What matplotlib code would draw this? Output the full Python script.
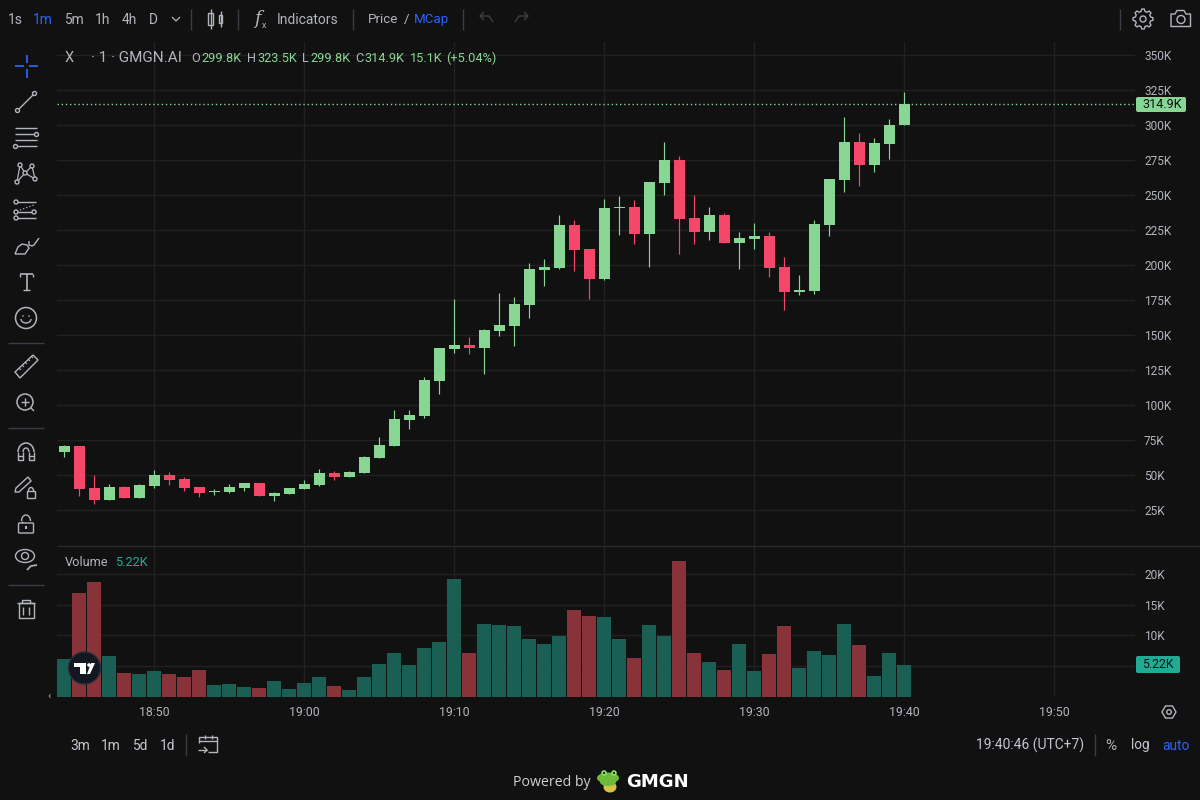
import numpy as np
import matplotlib
matplotlib.use("Agg")
import matplotlib.pyplot as plt
from matplotlib.patches import Circle, Rectangle, Polygon, FancyBboxPatch, Ellipse, Arc

plt.rcParams['font.family'] = ['Roboto', 'DejaVu Sans']

# ---- data (thousands) : one entry per minute, starting 18:44 ----
opens = [66.4,70.7,40.7,32.1,41.4,33.6,42.1,50.0,47.1,41.4,37.9,37.9,40.7,44.3,35.0,36.4,40.0,42.9,51.4,48.6,
         51.4,62.1,70.7,89.3,92.1,117.1,140.0,142.9,140.7,152.9,156.4,171.4,196.4,197.9,228.6,211.4,190.0,240.7,241.4,222.1,
         258.6,275.0,233.6,223.6,235.7,215.7,218.6,220.7,198.6,180.7,181.4,228.6,260.7,287.9,271.4,286.4,299.8]
highs = [71.4,70.7,50.0,43.6,42.1,43.6,53.6,52.1,48.6,41.4,40.0,43.6,44.3,44.3,37.9,40.7,46.4,54.3,52.9,52.9,
         63.6,77.1,96.4,96.4,120.0,140.7,175.7,148.6,154.3,180.0,177.1,201.4,204.3,235.7,232.1,211.4,247.1,249.3,246.4,259.3,
         287.9,277.9,250.0,241.4,237.1,223.6,230.0,223.6,205.7,192.9,232.1,261.4,305.7,294.3,290.7,304.3,323.5]
lows = [62.9,35.0,29.3,32.1,33.6,33.6,40.7,42.9,38.6,34.3,35.7,37.1,38.6,35.0,31.4,36.4,40.0,42.1,46.4,48.6,
        51.4,62.1,70.7,82.9,90.7,107.9,137.1,136.4,122.1,149.3,142.1,162.1,185.0,197.1,195.7,175.7,189.3,221.4,215.0,198.6,
        250.0,207.9,215.0,217.9,215.7,197.1,211.4,191.4,167.9,178.6,179.3,220.7,252.1,256.4,266.4,275.7,299.8]
closes = [70.7,40.0,32.1,41.4,33.6,42.9,50.0,46.4,40.7,37.1,38.6,41.4,44.3,35.0,37.1,40.7,43.6,51.4,48.6,52.1,
          62.9,71.4,90.0,92.9,117.9,140.7,142.9,140.7,153.6,157.1,172.1,197.1,198.6,228.6,210.7,190.0,240.7,241.4,222.1,259.3,
          275.0,232.9,223.6,235.7,215.7,219.3,220.7,197.9,180.7,182.1,229.3,261.4,287.9,271.4,287.1,300.0,314.9]
volumes = [6.16,16.9,18.6,6.65,3.9,3.73,4.2,3.73,3.24,4.38,1.95,2.1,1.62,1.46,2.6,1.3,2.27,3.24,1.78,1.14,
           3.24,5.35,7.14,5.19,7.95,8.92,19.14,7.14,11.84,11.68,11.5,9.4,8.6,9.9,14.1,13.1,13.0,9.4,6.3,11.7,
           9.9,22.05,7.14,5.68,4.38,8.6,4.2,7.0,11.5,4.7,7.46,6.8,11.84,8.43,3.4,7.14,5.22]
price_ticks = [25,50,75,100,125,150,175,200,225,250,275,300,325,350]
volume_ticks = [5,10,15,20]
volume_labels = ['', '10K', '15K', '20K']   # the 5K label sits behind the last-value box
time_labels = ['18:50','19:00','19:10','19:20','19:30','19:40','19:50']
time_ticks = [6,16,26,36,46,56,66]
last_price = 314.9
last_volume = 5.22

BG = '#111111'; GRID = '#212121'; TXT = '#b2b5be'; UP = '#88D693'; DOWN = '#F4476A'
VUP = '#1A5F53'; VDOWN = '#883239'; BLUE = '#2962ff'; ICON = '#b2b5be'; SEP = '#3a3d45'

W, H = 1200, 800
fig = plt.figure(figsize=(12, 8), dpi=100, facecolor=BG)
def axes_px(l, t, r, b):
    return fig.add_axes([l / W, 1 - b / H, (r - l) / W, (b - t) / H], facecolor=BG)

ax = axes_px(57, 42, 1135, 545)
vx = axes_px(57, 546, 1135, 697)
xs = np.arange(len(opens))
for a in (ax, vx):
    a.set_xlim(-0.47, 71.4)
    a.set_xticks(time_ticks)
    a.grid(True, color=GRID, lw=1)
    a.set_axisbelow(True)
    a.tick_params(length=0)
    for s in a.spines.values():
        s.set_visible(False)
ax.set_ylim(0, 359.3)
ax.set_yticks(price_ticks)
ax.set_yticklabels([f'{v}K' for v in price_ticks])
ax.set_xticklabels([])
vx.set_ylim(0, 24.5)
vx.set_yticks(volume_ticks)
vx.set_yticklabels(volume_labels)
vx.set_xticklabels(time_labels)
for a in (ax, vx):
    a.yaxis.tick_right()
    a.tick_params(axis='y', colors=TXT, labelsize=8.6, pad=6.5)
vx.tick_params(axis='x', colors=TXT, labelsize=8.9, pad=6.5)

colors = [UP if c >= o else DOWN for o, c in zip(opens, closes)]
vcolors = [VUP if c >= o else VDOWN for o, c in zip(opens, closes)]
ax.vlines(xs, lows, highs, colors=colors, lw=0.85, zorder=3)
bottoms = [min(o, c) for o, c in zip(opens, closes)]
heights = [max(abs(c - o), 0.7) for o, c in zip(opens, closes)]
ax.bar(xs, heights, bottom=bottoms, width=0.733, color=colors, lw=0, zorder=4)
vx.bar(xs, volumes, width=0.933, color=vcolors, lw=0, zorder=3)
ax.axhline(last_price, color=UP, lw=1, ls=(0, (1, 2)), zorder=2)

# overlay in pixel coordinates for the surrounding interface
ui = fig.add_axes([0, 0, 1, 1], facecolor='none')
ui.set_xlim(0, W); ui.set_ylim(H, 0); ui.axis('off')
def T(x, y, s, c=TXT, size=9.2, ha='left', **k):
    ui.text(x, y, s, color=c, fontsize=size, ha=ha, va='center', **k)
def L(xx, yy, c=ICON, lw=1.0, **k):
    ui.plot(xx, yy, color=c, lw=lw, solid_capstyle='butt', **k)

# pane separator
L([57, 1200], [545.5, 545.5], c='#2a2a2a')

# top toolbar
for x, s, c in [(8, '1s', TXT), (33, '1m', BLUE), (64, '5m', TXT), (95, '1h', TXT), (122, '4h', TXT), (149, 'D', TXT)]:
    T(x, 19.5, s, c, 9.9)
L([172, 176, 180], [17, 21, 17], lw=0.9)
for x in (190.5, 237.5, 352.5, 462.5, 1119.5):
    L([x, x], [9, 30], c=SEP)
# candle icon
ui.add_patch(Rectangle((208, 13), 5, 12, fc='none', ec=ICON, lw=1)); L([210.5, 210.5], [9, 29], lw=1)
ui.add_patch(Rectangle((219, 15), 3, 8, fc='none', ec=ICON, lw=1)); L([220.5, 220.5], [11, 27], lw=1)
T(254, 19.5, 'f', TXT, 13, style='italic', family='DejaVu Serif')
T(262, 25, 'x', TXT, 6.5)
T(277, 19.5, 'Indicators', TXT, 10)
T(368, 19.5, 'Price', TXT, 9.6)
T(404, 19.5, '/', TXT, 9.6)
T(414, 19.5, 'MCap', BLUE, 9.6)
for x0, sgn in ((486, 1), (522, -1)):
    L([x0 - 6 * sgn, x0 + 3 * sgn, x0 + 7 * sgn], [16, 16, 22], c='#3d3f45', lw=1)
    L([x0 - 2 * sgn, x0 - 6 * sgn, x0 - 2 * sgn], [12, 16, 20], c='#3d3f45', lw=1)
# gear
n_pts = 48
th = np.linspace(0, 2 * np.pi, n_pts, endpoint=False)
rad = np.where(((np.arange(n_pts) + 1) % 6) < 3, 10.0, 7.8)
ui.add_patch(Polygon(np.c_[1143 + rad * np.cos(th), 19 + rad * np.sin(th)], closed=True, fc='none', ec=ICON, lw=1, joinstyle='round'))
ui.add_patch(Circle((1143, 19), 3, fc='none', ec=ICON, lw=1))
# camera
ui.add_patch(Polygon([(1171, 14), (1175, 14), (1177, 10.5), (1184, 10.5), (1186, 14), (1190.5, 14), (1190.5, 26.5), (1171, 26.5)],
                     closed=True, fc='none', ec=ICON, lw=1, joinstyle='round'))
ui.add_patch(Circle((1181, 19.5), 4, fc='none', ec=ICON, lw=1))

# legend row
T(65, 58.5, 'X', TXT, 10.5)
T(91, 58.5, '· 1 · GMGN.AI', TXT, 11)
for lab, val, x1, x2 in [('O', '299.8K', 191, 201), ('H', '323.5K', 247, 257), ('L', '299.8K', 302, 310), ('C', '314.9K', 355, 364)]:
    T(x1, 58.5, lab, TXT, 9.2)
    T(x2, 58.5, val, UP, 9.2)
T(410, 58.5, '15.1K', UP, 9.2)
T(446, 58.5, '(+5.04%)', UP, 9.2)

# volume legend
T(65, 562.5, 'Volume', TXT, 9.2)
T(115, 562.5, '5.22K', '#22AB94', 9.2)

# value boxes on the scales
ui.add_patch(FancyBboxPatch((1136, 97), 50, 15, boxstyle='round,pad=0,rounding_size=2', fc=UP, ec='none'))
T(1162.5, 104.5, f'{last_price}K', '#111111', 9.1, ha='center')
ui.add_patch(FancyBboxPatch((1136, 656), 44, 17, boxstyle='round,pad=0,rounding_size=2', fc='#22AB94', ec='none'))
T(1158, 664.5, f'{last_volume}K', '#111111', 8.8, ha='center')

# left toolbar
L([15, 24], [66, 66], c=BLUE, lw=1.3); L([29, 38], [66, 66], c=BLUE, lw=1.3)
L([26.5, 26.5], [55, 63], c=BLUE, lw=1.3); L([26.5, 26.5], [69, 78], c=BLUE, lw=1.3)
L([18, 34], [110, 94])
for c in ((17.5, 110.5), (34.5, 93.5)):
    ui.add_patch(Circle(c, 2, fc=BG, ec=ICON, lw=1, zorder=5))
for y0 in (128, 134, 140, 146):
    L([15, 37], [y0, y0])
ui.add_patch(Circle((36.5, 134.5), 2, fc=BG, ec=ICON, lw=1, zorder=5))
ui.add_patch(Circle((15.5, 146.5), 2, fc=BG, ec=ICON, lw=1, zorder=5))
pts = [(20, 165), (32, 166), (25, 173), (17, 182), (35, 179)]
for a_, b_ in [(0, 2), (1, 2), (2, 3), (2, 4), (0, 3), (1, 4)]:
    L([pts[a_][0], pts[b_][0]], [pts[a_][1], pts[b_][1]], lw=0.9)
for p in pts:
    ui.add_patch(Circle(p, 2, fc=BG, ec=ICON, lw=1, zorder=5))
for y0 in (202, 212, 218):
    L([16, 36], [y0, y0])
L([20, 34], [210, 205], ls=':', lw=0.9)
for c in ((16, 202), (16, 212), (34, 212), (16, 218)):
    ui.add_patch(Circle(c, 2, fc=BG, ec=ICON, lw=1, zorder=5))
# brush
L([15, 18, 22, 27, 29, 25, 15], [254, 247, 244, 245, 248, 254, 254])
L([29, 29, 32, 34, 39], [241, 245, 246, 245, 238])
# text tool
L([20, 33], [274, 274], lw=1.2); L([26.5, 26.5], [274, 290], lw=1.2); L([23, 30], [290, 290], lw=1)
L([20, 20], [274, 277]); L([33, 33], [274, 277])
# smile
ui.add_patch(Circle((26, 318), 10.5, fc='none', ec=ICON, lw=1.1))
ui.add_patch(Arc((26, 319), 10, 8, theta1=0, theta2=180, ec=ICON, lw=1))
ui.add_patch(Circle((23, 316), 0.8, fc=ICON, ec='none')); ui.add_patch(Circle((29, 316), 0.8, fc=ICON, ec='none'))
for y0 in (342.5, 427.5, 584.5):
    L([8, 44], [y0, y0], c=SEP)
# ruler
ui.add_patch(Polygon([(15, 372), (33, 355), (38, 360), (20, 378)], closed=True, fc='none', ec=ICON, lw=1))
for k in range(5):
    x0, y0 = 19 + 3 * k, 368 - 3 * k
    L([x0, x0 + 2], [y0, y0 + 2], lw=0.8)
# zoom
ui.add_patch(Circle((25, 402), 8, fc='none', ec=ICON, lw=1.1))
L([21, 29], [402, 402]); L([25, 25], [398, 406]); L([31, 34], [408, 411])
# magnet
ui.add_patch(Arc((26, 452), 16, 18, theta1=180, theta2=360, ec=ICON, lw=1.1))
ui.add_patch(Arc((26, 452), 6, 8, theta1=180, theta2=360, ec=ICON, lw=1))
L([18, 18, 23, 23], [452, 460, 460, 452]); L([29, 29, 34, 34], [452, 460, 460, 452]); L([18, 23], [456, 456]); L([29, 34], [456, 456])
# pencil with lock
ui.add_patch(Polygon([(15, 492), (16, 488), (28, 477), (31, 481), (19, 492)], closed=True, fc='none', ec=ICON, lw=1))
ui.add_patch(Rectangle((27, 491), 8, 6.5, fc='none', ec=ICON, lw=1))
ui.add_patch(Arc((31, 491), 5, 7, theta1=180, theta2=360, ec=ICON, lw=1))
# lock
ui.add_patch(FancyBboxPatch((18.5, 523), 15, 10, boxstyle='round,pad=0,rounding_size=1', fc='none', ec=ICON, lw=1))
ui.add_patch(Arc((26, 521), 9, 12, theta1=180, theta2=360, ec=ICON, lw=1)); L([21.5, 21.5], [521, 523], lw=1)
L([26, 26], [526, 529], lw=1.5)
# eye
ui.add_patch(Ellipse((25, 556), 19, 13, fc='none', ec=ICON, lw=1)); ui.add_patch(Circle((25, 556), 3.5, fc='none', ec=ICON, lw=1))
L([27, 31, 37], [570, 566, 565], lw=1.2)
# trash
ui.add_patch(Rectangle((18.5, 603), 15, 15, fc='none', ec=ICON, lw=1))
L([17, 35], [603, 603]); L([22, 22, 30, 30], [603, 600, 600, 603]); L([23, 23], [607, 615]); L([29, 29], [607, 615])

# TradingView badge
ui.add_patch(Circle((84.5, 668), 16, fc='#131722', ec='#2a2e39', lw=1, zorder=6))
ui.add_patch(Polygon([(74, 663), (86, 663), (86, 674), (80, 674), (80, 667), (74, 667)], closed=True, fc='white', ec='none', zorder=7))
ui.add_patch(Circle((89, 665), 1.8, fc='white', ec='none', zorder=7))
ui.add_patch(Polygon([(90, 674), (87, 674), (91, 663), (95, 663)], closed=True, fc='white', ec='none', zorder=7))
T(49, 696, '‹', TXT, 8, ha='center')

# scale gear (hexagon)
ang = np.deg2rad(np.arange(0, 360, 60))
ui.add_patch(Polygon(np.c_[1169 + 7 * np.cos(ang), 712 + 7 * np.sin(ang)], closed=True, fc='none', ec=ICON, lw=1))
ui.add_patch(Circle((1169, 712), 2.3, fc='none', ec=ICON, lw=1))

# bottom bar
for x, s in [(70, '3m'), (101, '1m'), (132, '5d'), (160, '1d')]:
    T(x, 745.5, s, '#c3c6cf', 9.9)
L([185.5, 185.5], [734, 756], c=SEP)
L([199, 199, 217, 217, 208], [743, 737, 737, 752, 752], lw=1); L([199, 217], [741, 741], lw=1)
L([205, 205], [735, 739], lw=1); L([212, 212], [735, 739], lw=1)
L([198, 207], [750, 750], lw=1); L([204, 207, 204], [747, 750, 753], lw=1)
T(976, 745.5, '19:40:46 (UTC+7)', '#c3c6cf', 10)
L([1094.5, 1094.5], [734, 756], c=SEP)
T(1105, 745.5, '%', TXT, 11)
T(1131, 745.5, 'log', '#c3c6cf', 9.8)
T(1162, 745.5, 'auto', BLUE, 9.9)

# footer
T(513, 782, 'Powered by', '#cfcfcf', 10.2, family='Open Sans')
ui.add_patch(Ellipse((608, 778), 22, 11, fc='#6DBB3A', ec='none'))
ui.add_patch(Ellipse((610, 787), 13, 11, fc='#D9C24A', ec='none'))
ui.add_patch(Ellipse((608, 782), 16, 8, fc='#6DBB3A', ec='none'))
ui.add_patch(Circle((604, 773), 2.8, fc='#8FE05A', ec='none')); ui.add_patch(Circle((614, 773), 2.8, fc='#8FE05A', ec='none'))
ui.add_patch(Circle((604, 773), 1.1, fc='#222222', ec='none')); ui.add_patch(Circle((614, 773), 1.1, fc='#222222', ec='none'))
T(626, 782, 'GMGN', 'white', 13, weight='bold', family='DejaVu Sans')

fig.savefig('out.png', dpi=100, facecolor=BG)
